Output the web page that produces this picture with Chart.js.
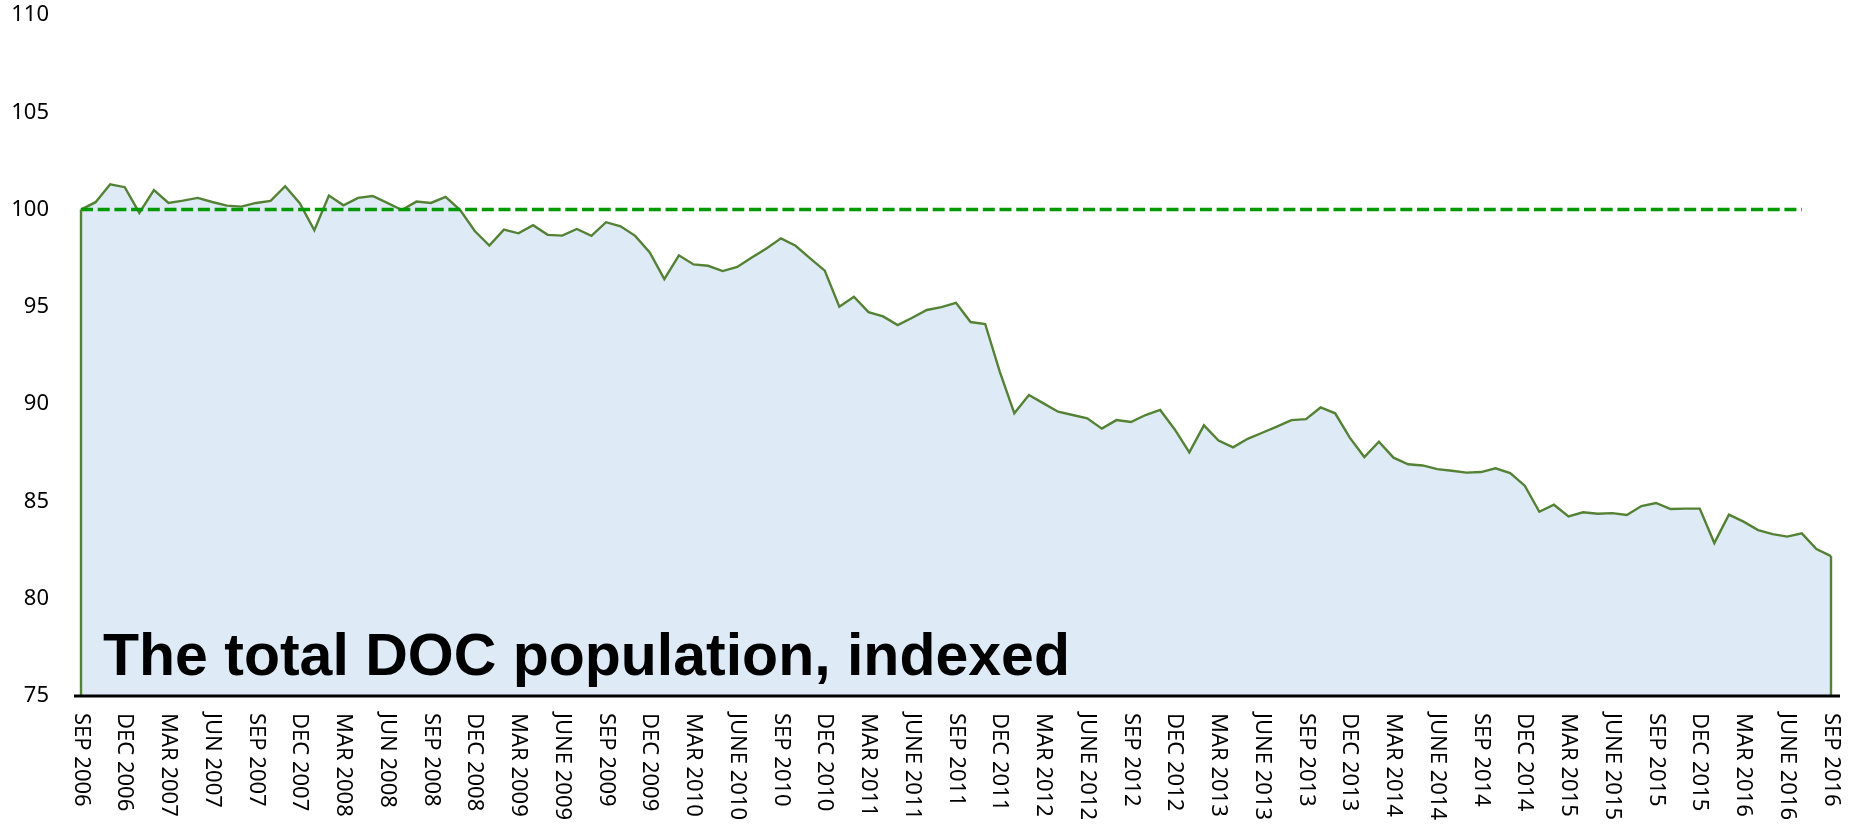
<!DOCTYPE html>
<html>
<head>
<meta charset="utf-8">
<title>The total DOC population, indexed</title>
<script src="https://cdn.jsdelivr.net/npm/chart.js@4/dist/chart.umd.min.js"></script>
<style>
    html, body { margin: 0; padding: 0; background: #fff; }
    #doc-chart { display: block; }
</style>
</head>
<body>
<canvas id="doc-chart" width="1856" height="824"></canvas>
<script>
// ---------------------------------------------------------
// DATA
// ---------------------------------------------------------
const months = [
    "SEP 2006", "OCT 2006", "NOV 2006", "DEC 2006",
    "JAN 2007", "FEB 2007", "MAR 2007", "APR 2007", "MAY 2007", "JUN 2007", "JUL 2007", "AUG 2007", "SEP 2007", "OCT 2007", "NOV 2007", "DEC 2007",
    "JAN 2008", "FEB 2008", "MAR 2008", "APR 2008", "MAY 2008", "JUN 2008", "JUL 2008", "AUG 2008", "SEP 2008", "OCT 2008", "NOV 2008", "DEC 2008",
    "JAN 2009", "FEB 2009", "MAR 2009", "APR 2009", "MAY 2009", "JUN 2009", "JUL 2009", "AUG 2009", "SEP 2009", "OCT 2009", "NOV 2009", "DEC 2009",
    "JAN 2010", "FEB 2010", "MAR 2010", "APR 2010", "MAY 2010", "JUN 2010", "JUL 2010", "AUG 2010", "SEP 2010", "OCT 2010", "NOV 2010", "DEC 2010",
    "JAN 2011", "FEB 2011", "MAR 2011", "APR 2011", "MAY 2011", "JUN 2011", "JUL 2011", "AUG 2011", "SEP 2011", "OCT 2011", "NOV 2011", "DEC 2011",
    "JAN 2012", "FEB 2012", "MAR 2012", "APR 2012", "MAY 2012", "JUN 2012", "JUL 2012", "AUG 2012", "SEP 2012", "OCT 2012", "NOV 2012", "DEC 2012",
    "JAN 2013", "FEB 2013", "MAR 2013", "APR 2013", "MAY 2013", "JUN 2013", "JUL 2013", "AUG 2013", "SEP 2013", "OCT 2013", "NOV 2013", "DEC 2013",
    "JAN 2014", "FEB 2014", "MAR 2014", "APR 2014", "MAY 2014", "JUN 2014", "JUL 2014", "AUG 2014", "SEP 2014", "OCT 2014", "NOV 2014", "DEC 2014",
    "JAN 2015", "FEB 2015", "MAR 2015", "APR 2015", "MAY 2015", "JUN 2015", "JUL 2015", "AUG 2015", "SEP 2015", "OCT 2015", "NOV 2015", "DEC 2015",
    "JAN 2016", "FEB 2016", "MAR 2016", "APR 2016", "MAY 2016", "JUN 2016", "JUL 2016", "AUG 2016", "SEP 2016"
];

// total DOC population, indexed (Sep 2006 = 100)
const docIndex = [
    100.0, 100.38, 101.3, 101.15,
    99.83, 101.0, 100.34, 100.46, 100.6, 100.39, 100.2, 100.15, 100.34, 100.45, 101.2, 100.33,
    98.94, 100.72, 100.22, 100.6, 100.7, 100.34, 99.98, 100.41, 100.34, 100.65, 99.97, 98.9,
    98.15, 98.97, 98.78, 99.2, 98.7, 98.66, 99.0, 98.65, 99.35, 99.14, 98.65, 97.8,
    96.43, 97.65, 97.18, 97.11, 96.84, 97.05, 97.54, 98.0, 98.52, 98.14, 97.49, 96.86,
    95.01, 95.52, 94.73, 94.51, 94.06, 94.44, 94.84, 94.99, 95.21, 94.22, 94.12, 91.67,
    89.53, 90.47, 90.04, 89.61, 89.44, 89.27, 88.74, 89.18, 89.08, 89.44, 89.7, 88.7,
    87.52, 88.91, 88.13, 87.78, 88.22, 88.53, 88.84, 89.18, 89.23, 89.83, 89.53, 88.28,
    87.28, 88.07, 87.25, 86.91, 86.85, 86.66, 86.58, 86.48, 86.51, 86.7, 86.46, 85.81,
    84.47, 84.83, 84.23, 84.44, 84.37, 84.4, 84.3, 84.76, 84.92, 84.61, 84.63, 84.63,
    82.86, 84.32, 83.96, 83.53, 83.32, 83.19, 83.36, 82.55, 82.19
];

// dashed reference line at 100
const baselineValue = 100;
const baselineStart = "SEP 2006";
const baselineEnd = "JUL 2016";

// quarterly x tick labels (every 3rd month)
const tickLabels = [
    "SEP 2006", "DEC 2006", "MAR 2007", "JUN 2007", "SEP 2007", "DEC 2007",
    "MAR 2008", "JUN 2008", "SEP 2008", "DEC 2008", "MAR 2009", "JUNE 2009",
    "SEP 2009", "DEC 2009", "MAR 2010", "JUNE 2010", "SEP 2010", "DEC 2010",
    "MAR 2011", "JUNE 2011", "SEP 2011", "DEC 2011", "MAR 2012", "JUNE 2012",
    "SEP 2012", "DEC 2012", "MAR 2013", "JUNE 2013", "SEP 2013", "DEC 2013",
    "MAR 2014", "JUNE 2014", "SEP 2014", "DEC 2014", "MAR 2015", "JUNE 2015",
    "SEP 2015", "DEC 2015", "MAR 2016", "JUNE 2016", "SEP 2016"
];
const tickEvery = 3;

const yMin = 75;
const yMax = 110;
const yStep = 5;

const titleText = "The total DOC population, indexed";

// ---------------------------------------------------------
// Styles
// ---------------------------------------------------------
const lineColor = "#548235";
const areaColor = "#deebf7";
const dashColor = "#009900";
const labelFont = "22px 'Noto Sans'";

// ---------------------------------------------------------
// Extra drawing: area edges, axis line, rotated labels, title
// ---------------------------------------------------------
const docDecor = {
    id: "docDecor",
    afterDatasetsDraw(chart) {
        const ctx = chart.ctx;
        const xs = chart.scales.x;
        const ys = chart.scales.y;
        const area = chart.chartArea;

        ctx.save();

        // vertical sides of the area
        ctx.strokeStyle = lineColor;
        ctx.lineWidth = 2.4;
        [0, docIndex.length - 1].forEach((i) => {
            const px = xs.getPixelForValue(i);
            ctx.beginPath();
            ctx.moveTo(px, ys.getPixelForValue(docIndex[i]));
            ctx.lineTo(px, ys.getPixelForValue(yMin));
            ctx.stroke();
        });

        // x axis line
        ctx.strokeStyle = "#000";
        ctx.lineWidth = 3;
        ctx.beginPath();
        ctx.moveTo(area.left - 7, area.bottom);
        ctx.lineTo(area.right + 9, area.bottom);
        ctx.stroke();

        // x tick labels, reading top to bottom
        ctx.fillStyle = "#000";
        ctx.font = labelFont;
        ctx.textAlign = "left";
        ctx.textBaseline = "middle";
        tickLabels.forEach((t, k) => {
            const px = xs.getPixelForValue(k * tickEvery);
            ctx.save();
            ctx.translate(px, area.bottom + 17);
            ctx.rotate(Math.PI / 2);
            ctx.fillText(t, 0, 0);
            ctx.restore();
        });

        // title inside the plot
        ctx.font = "bold 59px 'Liberation Sans', Arial, sans-serif";
        ctx.textBaseline = "alphabetic";
        ctx.fillText(titleText, area.left + 22, area.bottom - 21);

        ctx.restore();
    },
};

// ---------------------------------------------------------
// Chart
// ---------------------------------------------------------
new Chart(document.getElementById("doc-chart"), {
    type: "line",
    data: {
        labels: months,
        datasets: [
            {
                label: "Baseline",
                data: [
                    { x: baselineStart, y: baselineValue },
                    { x: baselineEnd, y: baselineValue },
                ],
                borderColor: dashColor,
                borderWidth: 3.5,
                borderDash: [12, 4.7],
                borderCapStyle: "butt",
                pointRadius: 0,
                fill: false,
                order: 0,
            },
            {
                label: "DOC population",
                data: docIndex,
                borderColor: lineColor,
                backgroundColor: areaColor,
                borderWidth: 2.4,
                pointRadius: 0,
                tension: 0,
                fill: "start",
                order: 1,
            },
        ],
    },
    options: {
        responsive: false,
        animation: false,
        devicePixelRatio: 1,
        layout: {
            padding: { top: 15, right: 25, bottom: 0, left: 0 },
        },
        plugins: {
            legend: { display: false },
            tooltip: { enabled: false },
        },
        scales: {
            x: {
                type: "category",
                offset: false,
                grid: { display: false, drawTicks: false },
                border: { display: false },
                ticks: { display: false },
                afterFit(scale) {
                    scale.height = 128;
                },
            },
            y: {
                min: yMin,
                max: yMax,
                grid: { display: false, drawTicks: false },
                border: { display: false },
                ticks: {
                    stepSize: yStep,
                    padding: 32,
                    color: "#000",
                    font: { family: "'Noto Sans'", size: 22 },
                },
                afterFit(scale) {
                    // fixed gutter; tick padding must not push the plot down
                    scale.width = 81;
                    scale.paddingTop = 12;
                    scale.paddingBottom = 12;
                },
            },
        },
    },
    plugins: [docDecor],
});
</script>
</body>
</html>
